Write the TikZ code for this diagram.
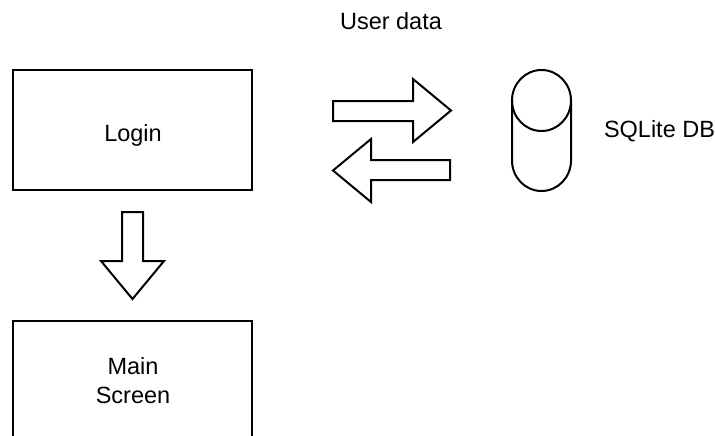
\documentclass[tikz,border=0pt]{standalone}
\usepackage{fontspec}
\setmainfont{Liberation Sans}
\begin{document}
\begin{tikzpicture}[x=1pt,y=-1pt,
  line width=2pt, line join=miter,
  box/.style={draw=black, rectangle, inner sep=0pt, line width=2pt},
  txt/.style={inner sep=0pt, font=\fontsize{23.5}{29}\selectfont, text=black},
  blockarrow/.style={draw=black, fill=white, line width=2pt, line join=miter}]
\clip (0,0) rectangle (715,436);
\fill[white] (0,0) rectangle (715,436);

% application screens
\node[box, minimum width=239.5pt, minimum height=119pt] (login) at (132.5,130) {};
\node[txt, anchor=base] (loginlabel) at (133,141) {Login};
\node[box, minimum width=239.5pt, minimum height=120pt] (main) at (132.5,381) {};
\node[txt, align=center] (mainlabel) at (133,381) {Main\\Screen};

% block arrow from Login down to Main Screen
\draw[blockarrow] (122,212) -- (143,212) -- (143,261) -- (164,261)
  -- (132.5,299) -- (101,261) -- (122,261) -- cycle;

% data exchange with the database
\draw[blockarrow] (333,101) -- (413,101) -- (413,79) -- (451,110.5)
  -- (413,142) -- (413,121) -- (333,121) -- cycle;
\draw[blockarrow] (450,160) -- (371,160) -- (371,139) -- (333,170.5)
  -- (371,202) -- (371,180) -- (450,180) -- cycle;
\node[txt, anchor=base] (userdata) at (391,30) {User data};

% SQLite database cylinder
\coordinate (db) at (541.5,130.5);
\draw (512,100.5) -- (512,160.5)
  arc[start angle=180, end angle=360, x radius=29.5pt, y radius=30.5pt]
  -- (571,100.5);
\draw (541.5,100.5) ellipse [x radius=29.5pt, y radius=30.5pt];
\node[txt, anchor=base west] (dblabel) at (603,137) {SQLite DB};
\end{tikzpicture}
\end{document}
